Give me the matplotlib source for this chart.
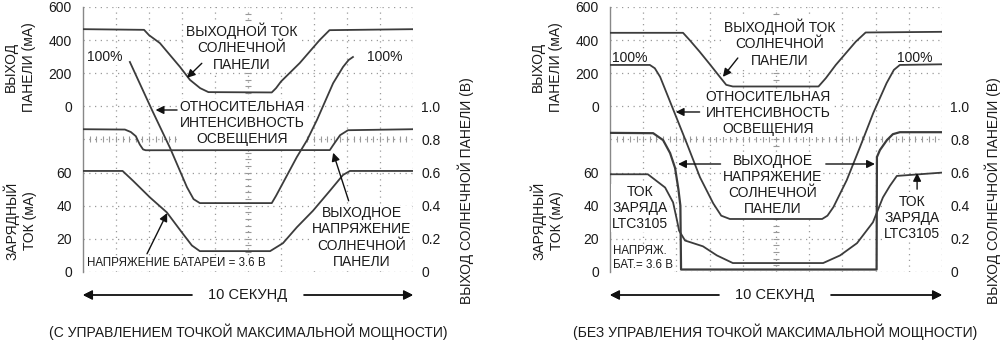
import numpy as np
import matplotlib.pyplot as plt

plt.rcParams['font.family'] = ['Liberation Sans', 'DejaVu Sans']

# scope screen: 10 s over 10 divisions, 8 divisions high
# top channel: panel current, 0 mA at div 5, 200 mA/div
# bottom: charge current 20 mA/div, panel voltage 0.2 V/div
# intensity trace has no scale, kept in divisions

# ---- with MPPT (left) ----
mppt_t_panel = [0, 1.85, 2.0, 2.33, 2.94, 3.24, 3.55, 3.8, 5.72, 5.85, 6.0, 6.57, 7.17, 7.47, 10]
mppt_panel_ma = [466, 462, 430, 382, 238, 160, 110, 86, 84, 110, 150, 262, 400, 460, 466]

mppt_t_light = [1.42, 2.09, 2.64, 3.15, 3.35, 3.54, 5.72, 5.85, 6.06, 6.48, 6.79, 7.09, 7.58, 7.88, 8.05, 8.18]
mppt_light = [6.34, 4.89, 3.74, 2.56, 2.2, 2.08, 2.08, 2.3, 2.69, 3.47, 3.98, 4.59, 5.7, 6.19, 6.4, 6.49]

mppt_t_volt = [0, 1.27, 1.45, 1.6, 1.72, 1.82, 1.9, 7.48, 7.58, 7.79, 8.03, 10]
mppt_volt = [0.862, 0.86, 0.845, 0.82, 0.77, 0.74, 0.735, 0.736, 0.766, 0.826, 0.856, 0.862]

mppt_t_charge = [0, 1.2, 1.52, 2.03, 2.54, 3.03, 3.3, 3.54, 5.67, 6.06, 6.48, 6.97, 7.48, 7.88, 8.09, 10]
mppt_charge_ma = [61, 61, 55, 45, 36, 23, 16, 12.6, 12.6, 17.4, 27, 37, 49, 58.6, 61, 61]

# ---- without MPPT (right) ----
nomppt_t_panel = [0, 2.2, 2.4, 2.7, 3.0, 3.3, 3.5, 3.7, 6.28, 6.5, 6.8, 7.1, 7.4, 7.7, 10]
nomppt_panel_ma = [444, 444, 400, 330, 256, 180, 130, 120, 120, 170, 250, 320, 390, 446, 450]

nomppt_t_light = [0, 1.2, 1.35, 1.51, 1.91, 2.31, 2.71, 3.11, 3.35, 3.61, 6.39, 6.55, 6.73, 7.13, 7.53, 7.93,
                  8.33, 8.55, 8.73, 10]
nomppt_light = [6.25, 6.25, 6.15, 5.89, 4.89, 3.89, 2.86, 2.07, 1.7, 1.6, 1.6, 1.7, 1.96, 2.77, 3.77, 4.8,
                5.7, 6.1, 6.25, 6.27]

nomppt_t_volt = [0, 1.3, 1.6, 1.81, 1.96, 2.06, 2.12, 2.14, 8.03, 8.04, 8.13, 8.34, 8.52, 8.73, 10]
nomppt_volt = [0.84, 0.838, 0.796, 0.718, 0.628, 0.5, 0.4, 0.015, 0.015, 0.694, 0.736, 0.796, 0.832, 0.844, 0.844]

nomppt_t_charge = [0, 1.14, 1.66, 1.9, 2.02, 2.08, 2.26, 2.8, 3.22, 3.7, 6.42, 6.93, 7.44, 7.92, 8.22, 8.43, 8.64, 10]
nomppt_charge_ma = [59, 59, 51, 42, 31, 25, 19, 15.5, 10, 5.4, 5.4, 10, 17.4, 30, 45, 52, 58, 60]

left_tick_labels = ['0', '20', '40', '60', '', '0', '200', '400', '600']
right_tick_labels = ['0', '0.2', '0.4', '0.6', '0.8', '1.0']

TRACE = '#3c3c3c'
TXT = '#1a1a1a'
FS = 10
FS_SMALL = 8.3


def panel_div(ma):
    return 5 + np.array(ma) / 200.0


def charge_div(ma):
    return np.array(ma) / 20.0


def volt_div(v):
    return np.array(v) / 0.2


fig = plt.figure(figsize=(10, 3.42), dpi=100)


def scope(rect):
    ax = fig.add_axes(rect)
    ax.set_xlim(0, 10)
    ax.set_ylim(0, 8)
    for s in ['top', 'right', 'bottom']:
        ax.spines[s].set_visible(False)
    ax.spines['left'].set_color('#888888')
    ax.spines['left'].set_linewidth(1.0)
    dots = dict(color='#9a9a9a', lw=0.9, ls=(0, (1, 3.6)), zorder=1)
    for x in range(1, 11):
        ax.axvline(x, **dots)
    for y in range(0, 9):
        ax.axhline(y, **dots)
    # centre cross with small ticks
    tx = np.arange(0.2, 10, 0.2)
    ax.plot(tx, np.full(len(tx), 4.0), ls='none', marker='|', ms=4, mew=0.8, color='#999999', zorder=1)
    ty = np.arange(0.2, 8, 0.2)
    ax.plot(np.full(len(ty), 5.0), ty, ls='none', marker='_', ms=4, mew=0.8, color='#999999', zorder=1)
    ax.set_xticks([])
    ax.set_yticks(range(9), labels=left_tick_labels)
    ax.tick_params(axis='y', length=0, pad=8, labelsize=FS, labelcolor=TXT)
    ax2 = ax.twinx()
    ax2.set_ylim(0, 8)
    for s in ax2.spines.values():
        s.set_visible(False)
    ax2.set_yticks(range(6), labels=right_tick_labels)
    ax2.tick_params(axis='y', length=0, pad=6, labelsize=FS, labelcolor=TXT)
    return ax


def label(ax, x, y, s, ha='center', size=FS):
    ax.text(x, y, s, ha=ha, va='center', fontsize=size, color=TXT, linespacing=1.2,
            multialignment=ha, zorder=3,
            bbox=dict(facecolor='white', edgecolor='none', pad=0.5))


def arrow(ax, start, end):
    ax.annotate('', xy=end, xytext=start,
                arrowprops=dict(arrowstyle='-|>', color='#111111', lw=1.0, mutation_scale=12,
                                shrinkA=0, shrinkB=0), zorder=5)


# ---------- left panel ----------
ax = scope([0.083, 0.2047, 0.330, 0.7749])
kw = dict(color=TRACE, lw=1.3, zorder=4)
ax.plot(mppt_t_panel, panel_div(mppt_panel_ma), **kw)
ax.plot(mppt_t_light, mppt_light, **kw)
ax.plot(mppt_t_volt, volt_div(mppt_volt), **kw)
ax.plot(mppt_t_charge, charge_div(mppt_charge_ma), **kw)

label(ax, 4.82, 6.79, 'ВЫХОДНОЙ ТОК\nСОЛНЕЧНОЙ\nПАНЕЛИ')
arrow(ax, (3.6, 6.3), (3.15, 5.86))
label(ax, 4.82, 4.5, 'ОТНОСИТЕЛЬНАЯ\nИНТЕНСИВНОСТЬ\nОСВЕЩЕНИЯ')
arrow(ax, (2.85, 4.89), (2.2, 4.89))
label(ax, 8.45, 1.04, 'ВЫХОДНОЕ\nНАПРЯЖЕНИЕ\nСОЛНЕЧНОЙ\nПАНЕЛИ')
arrow(ax, (8.05, 2.15), (7.58, 3.6))
label(ax, 0.12, 0.27, 'НАПРЯЖЕНИЕ БАТАРЕИ = 3.6 В', ha='left', size=FS_SMALL)
arrow(ax, (1.94, 0.55), (2.55, 1.78))
label(ax, 0.67, 6.49, '100%')
label(ax, 9.15, 6.49, '100%')

# ---------- right panel ----------
ax = scope([0.610, 0.2047, 0.332, 0.7749])
ax.plot(nomppt_t_panel, panel_div(nomppt_panel_ma), **kw)
ax.plot(nomppt_t_light, nomppt_light, **kw)
ax.plot(nomppt_t_volt, volt_div(nomppt_volt), color=TRACE, lw=1.6, zorder=4)
ax.plot(nomppt_t_charge, charge_div(nomppt_charge_ma), **kw)

label(ax, 5.12, 6.91, 'ВЫХОДНОЙ ТОК\nСОЛНЕЧНОЙ\nПАНЕЛИ')
arrow(ax, (3.85, 6.46), (3.4, 5.89))
label(ax, 4.76, 4.8, 'ОТНОСИТЕЛЬНАЯ\nИНТЕНСИВНОСТЬ\nОСВЕЩЕНИЯ')
arrow(ax, (2.7, 4.83), (1.98, 4.83))
label(ax, 4.91, 2.63, 'ВЫХОДНОЕ\nНАПРЯЖЕНИЕ\nСОЛНЕЧНОЙ\nПАНЕЛИ')
arrow(ax, (3.33, 3.26), (2.05, 3.26))
arrow(ax, (6.5, 3.26), (7.98, 3.26))
label(ax, 0.9, 1.93, 'ТОК\nЗАРЯДА\nLTC3105')
label(ax, 0.09, 0.42, 'НАПРЯЖ.\nБАТ.= 3.6 В', ha='left', size=FS_SMALL)
label(ax, 9.1, 1.63, 'ТОК\nЗАРЯДА\nLTC3105')
arrow(ax, (9.25, 2.5), (9.25, 2.99))
label(ax, 0.6, 6.46, '100%')
label(ax, 9.19, 6.46, '100%')


# ---------- outer texts ----------
def fx(px):
    return px / 1000.0


def fy(py):
    return 1 - py / 342.0


for x0, x1, cx, cap in [(83, 413, 248, '(С УПРАВЛЕНИЕМ ТОЧКОЙ МАКСИМАЛЬНОЙ МОЩНОСТИ)'),
                        (610, 942, 775, '(БЕЗ УПРАВЛЕНИЯ ТОЧКОЙ МАКСИМАЛЬНОЙ МОЩНОСТИ)')]:
    fig.text(fx(cx), fy(295), '10 СЕКУНД', ha='center', va='center', fontsize=10.5, color=TXT)
    fig.text(fx(cx), fy(332), cap, ha='center', va='center', fontsize=FS, color=TXT)
    for a, b in [(cx - 56, x0), (cx + 56, x1)]:
        fig.add_artist(plt.annotate('', xy=(fx(b), fy(295)), xytext=(fx(a), fy(295)),
                                    xycoords='figure fraction', textcoords='figure fraction',
                                    arrowprops=dict(arrowstyle='-|>', color='#111111', lw=1.0,
                                                    mutation_scale=14, shrinkA=0, shrinkB=0)))

for off in [0, 527]:
    fig.text(fx(20 + off), fy(67), 'ВЫХОД\nПАНЕЛИ (мА)', rotation=90, ha='center', va='center',
             multialignment='center', fontsize=FS, color=TXT, linespacing=1.4)
    fig.text(fx(20 + off), fy(221), 'ЗАРЯДНЫЙ\nТОК (мА)', rotation=90, ha='center', va='center',
             multialignment='center', fontsize=FS, color=TXT, linespacing=1.4)
fig.text(fx(466), fy(191), 'ВЫХОД СОЛНЕЧНОЙ ПАНЕЛИ (В)', rotation=90, ha='center', va='center',
         fontsize=FS, color=TXT)
fig.text(fx(993), fy(191), 'ВЫХОД СОЛНЕЧНОЙ ПАНЕЛИ (В)', rotation=90, ha='center', va='center',
         fontsize=FS, color=TXT)

fig.savefig('out.png', dpi=100)
